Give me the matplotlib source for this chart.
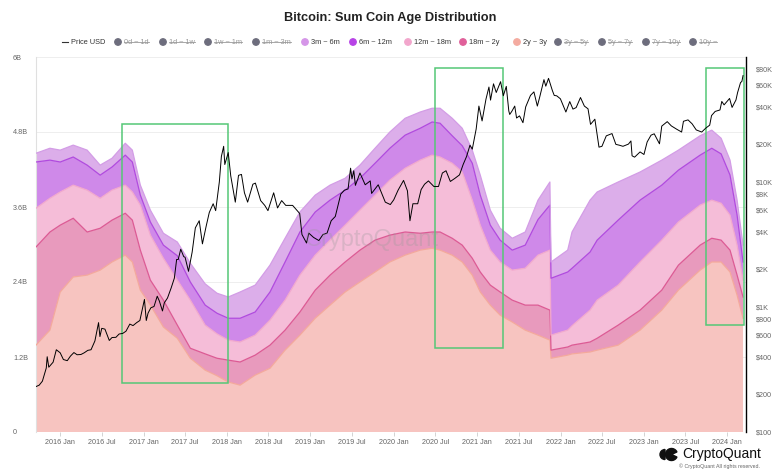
import matplotlib
matplotlib.use("Agg")
import matplotlib.pyplot as plt
import matplotlib.dates as mdates
from matplotlib.patches import Rectangle, Circle, Wedge
from matplotlib.lines import Line2D
import numpy as np
import pandas as pd

plt.rcParams["font.family"] = ["Liberation Sans", "DejaVu Sans"]

# stacked area edges (billions), from the bottom layer up
band_dates = ["2015-09-17", "2015-11-17", "2016-01-01", "2016-02-27", "2016-04-28", "2016-06-24",
              "2016-08-15", "2016-10-12", "2016-11-12", "2016-12-17", "2017-01-30", "2017-03-28",
              "2017-05-28", "2017-07-24", "2017-09-27", "2017-11-18", "2018-01-06", "2018-02-27",
              "2018-05-04", "2018-07-08", "2018-09-12", "2018-11-16", "2019-01-22", "2019-03-28",
              "2019-06-02", "2019-08-06", "2019-10-11", "2019-12-15", "2020-02-20", "2020-04-26",
              "2020-06-17", "2020-07-22", "2020-09-13", "2020-10-27", "2020-12-10", "2021-01-14",
              "2021-02-27", "2021-04-11", "2021-06-03", "2021-07-30", "2021-09-24", "2021-11-15",
              "2021-11-20", "2022-02-01", "2022-02-20", "2022-05-10", "2022-06-10", "2022-09-10",
              "2022-12-15", "2023-03-20", "2023-06-01", "2023-09-04", "2023-10-25", "2023-12-05",
              "2024-01-13", "2024-02-13", "2024-03-10"]
top_3m_6m = [4.46, 4.54, 4.51, 4.59, 4.51, 4.27, 4.38, 4.62, 4.51, 3.95, 3.55, 3.18, 3.04, 2.70,
             2.37, 2.22, 2.16, 2.24, 2.35, 2.67, 3.10, 3.52, 3.79, 3.95, 4.06, 4.27, 4.54, 4.80,
             5.02, 5.12, 5.18, 5.18, 5.02, 4.86, 4.51, 4.11, 3.55, 3.26, 3.10, 3.20, 3.71, 4.00,
             2.72, 2.91, 3.20, 3.71, 3.84, 4.00, 4.16, 4.35, 4.51, 4.74, 4.83, 4.70, 4.35, 3.71, 2.99]
top_6m_12m = [4.32, 4.35, 4.32, 4.40, 4.27, 4.11, 4.24, 4.43, 4.32, 3.79, 3.36, 2.99, 2.82, 2.40,
              2.03, 1.90, 1.82, 1.82, 1.92, 2.24, 2.72, 3.20, 3.52, 3.71, 3.87, 4.06, 4.30, 4.54,
              4.75, 4.86, 4.96, 4.94, 4.74, 4.58, 4.30, 3.79, 3.31, 3.07, 2.91, 2.99, 3.40, 3.63,
              2.46, 2.56, 2.62, 2.88, 3.07, 3.39, 3.71, 3.95, 4.19, 4.43, 4.54, 4.45, 4.11, 3.47, 2.72]
top_12m_18m = [3.58, 3.74, 3.84, 3.95, 3.87, 3.74, 3.87, 3.95, 3.84, 3.63, 3.15, 2.78, 2.43, 2.11,
               1.71, 1.57, 1.47, 1.44, 1.55, 1.79, 2.11, 2.51, 2.83, 3.07, 3.31, 3.55, 3.79, 4.03,
               4.22, 4.35, 4.43, 4.40, 4.30, 4.16, 3.71, 3.31, 2.91, 2.72, 2.59, 2.62, 2.83, 2.91,
               1.55, 1.63, 1.70, 1.95, 2.11, 2.35, 2.72, 3.07, 3.36, 3.63, 3.71, 3.66, 3.47, 2.99, 2.43]
top_18m_2y = [2.96, 3.20, 3.31, 3.42, 3.20, 3.26, 3.39, 3.50, 3.39, 2.91, 2.43, 2.11, 1.71, 1.34,
              1.25, 1.18, 1.15, 1.12, 1.23, 1.39, 1.63, 1.92, 2.27, 2.51, 2.72, 2.91, 3.07, 3.15,
              3.20, 3.18, 3.20, 3.20, 3.10, 2.99, 2.78, 2.56, 2.35, 2.24, 2.11, 2.03, 2.03, 1.95,
              1.31, 1.36, 1.39, 1.44, 1.50, 1.71, 1.95, 2.27, 2.67, 2.99, 3.10, 3.07, 2.91, 2.51, 2.16]
top_2y_3y = [1.39, 1.63, 2.24, 2.48, 2.51, 2.59, 2.72, 2.83, 2.72, 2.27, 2.03, 1.68, 1.50, 1.18,
             0.99, 0.90, 0.80, 0.75, 0.91, 1.02, 1.31, 1.55, 1.82, 2.03, 2.24, 2.40, 2.56, 2.72,
             2.83, 2.91, 2.94, 2.91, 2.83, 2.72, 2.51, 2.24, 2.03, 1.87, 1.76, 1.63, 1.55, 1.47,
             1.18, 1.23, 1.25, 1.28, 1.31, 1.39, 1.63, 1.95, 2.27, 2.59, 2.72, 2.72, 2.56, 2.19, 1.82]

# BTC price (USD)
price_dates = ["2015-09-15", "2015-10-01", "2015-10-15", "2015-11-01", "2015-11-05", "2015-11-12",
               "2015-12-01", "2015-12-15", "2016-01-01", "2016-01-15", "2016-02-01", "2016-02-15",
               "2016-03-01", "2016-03-15", "2016-04-01", "2016-04-15", "2016-05-01", "2016-05-15",
               "2016-06-01", "2016-06-17", "2016-06-23", "2016-07-01", "2016-07-15", "2016-08-03",
               "2016-08-15", "2016-09-01", "2016-09-15", "2016-10-01", "2016-10-15", "2016-11-01",
               "2016-11-15", "2016-12-01", "2016-12-15", "2017-01-04", "2017-01-12", "2017-01-20",
               "2017-02-01", "2017-02-15", "2017-03-01", "2017-03-10", "2017-03-24", "2017-04-01",
               "2017-04-15", "2017-05-01", "2017-05-15", "2017-05-25", "2017-06-01", "2017-06-12",
               "2017-06-25", "2017-07-01", "2017-07-16", "2017-08-01", "2017-08-15", "2017-09-01",
               "2017-09-15", "2017-10-01", "2017-10-15", "2017-11-01", "2017-11-12", "2017-11-28",
               "2017-12-07", "2017-12-17", "2017-12-22", "2018-01-06", "2018-01-17", "2018-02-06",
               "2018-02-20", "2018-03-05", "2018-03-18", "2018-04-01", "2018-04-24", "2018-05-05",
               "2018-05-28", "2018-06-15", "2018-06-29", "2018-07-24", "2018-08-10", "2018-08-28",
               "2018-09-15", "2018-10-15", "2018-11-15", "2018-11-25", "2018-12-15", "2018-12-25",
               "2019-01-15", "2019-02-07", "2019-02-25", "2019-03-15", "2019-04-02", "2019-04-20",
               "2019-05-14", "2019-05-30", "2019-06-15", "2019-06-26", "2019-07-02", "2019-07-10",
               "2019-07-17", "2019-08-06", "2019-08-29", "2019-09-20", "2019-09-26", "2019-10-25",
               "2019-11-25", "2019-12-17", "2020-01-01", "2020-01-20", "2020-02-13", "2020-03-01",
               "2020-03-12", "2020-03-25", "2020-04-15", "2020-04-30", "2020-05-15", "2020-06-01",
               "2020-06-25", "2020-07-15", "2020-08-01", "2020-08-17", "2020-09-05", "2020-09-25",
               "2020-10-15", "2020-10-31", "2020-11-15", "2020-11-30", "2020-12-10", "2020-12-27",
               "2021-01-08", "2021-01-22", "2021-02-08", "2021-02-21", "2021-02-28", "2021-03-13",
               "2021-03-25", "2021-04-13", "2021-04-25", "2021-05-08", "2021-05-19", "2021-05-23",
               "2021-06-01", "2021-06-14", "2021-06-22", "2021-07-05", "2021-07-20", "2021-08-01",
               "2021-08-22", "2021-09-06", "2021-09-21", "2021-10-01", "2021-10-20", "2021-10-28",
               "2021-11-09", "2021-11-26", "2021-12-04", "2021-12-15", "2021-12-31", "2022-01-10",
               "2022-01-24", "2022-02-10", "2022-02-24", "2022-03-10", "2022-03-29", "2022-04-15",
               "2022-05-01", "2022-05-12", "2022-05-31", "2022-06-18", "2022-07-01", "2022-07-20",
               "2022-08-14", "2022-08-31", "2022-09-15", "2022-10-01", "2022-10-25", "2022-11-05",
               "2022-11-10", "2022-11-21", "2022-12-15", "2023-01-01", "2023-01-15", "2023-02-01",
               "2023-02-15", "2023-03-10", "2023-03-20", "2023-04-13", "2023-05-01", "2023-05-25",
               "2023-06-15", "2023-06-23", "2023-07-13", "2023-07-31", "2023-08-18", "2023-09-11",
               "2023-09-29", "2023-10-16", "2023-10-24", "2023-11-09", "2023-11-30", "2023-12-08",
               "2023-12-18", "2024-01-11", "2024-01-22", "2024-02-08", "2024-02-15", "2024-02-28",
               "2024-03-05", "2024-03-10"]
price_usd = [230, 237, 255, 325, 400, 330, 362, 455, 430, 380, 372, 405, 432, 415, 417, 430, 450, 455,
             535, 750, 580, 675, 665, 540, 570, 572, 608, 615, 640, 730, 710, 750, 780, 1150, 780, 895,
             985, 1010, 1220, 1120, 930, 1080, 1180, 1420, 1700, 2400, 2400, 2900, 2530, 2500, 1930,
             2750, 4300, 4900, 3200, 4400, 5700, 6700, 5900, 10000, 16000, 19300, 13800, 17200, 11200,
             6900, 11300, 11500, 8200, 6900, 9600, 9800, 7100, 6500, 5900, 8200, 6200, 7100, 6500, 6500,
             5600, 3800, 3250, 3900, 3600, 3400, 3800, 3900, 4900, 5300, 8000, 8600, 8800, 12900, 10600,
             12300, 9400, 11800, 9500, 10200, 8100, 9500, 6900, 6600, 7200, 8600, 10300, 8500, 4900,
             6700, 6700, 8700, 9600, 10200, 9200, 9200, 11800, 12300, 10100, 10700, 11400, 13800, 16000,
             19700, 18300, 26500, 40500, 30800, 46000, 57500, 45200, 61000, 52000, 63500, 49000, 58200,
             37000, 34700, 36700, 40500, 32500, 33800, 29800, 39900, 49300, 52600, 40500, 47500, 65900,
             58400, 67500, 53800, 49300, 48900, 46300, 41800, 36300, 44000, 38300, 39400, 47400, 40500,
             38500, 28900, 31800, 19000, 19300, 23400, 24400, 20000, 19700, 19300, 20100, 21300, 16200,
             15800, 17400, 16600, 20900, 23700, 24300, 20200, 28000, 30400, 28100, 26400, 25100, 30600,
             31400, 29200, 26100, 25100, 27000, 28500, 34000, 36700, 37700, 44100, 41400, 46600, 39500,
             45300, 51800, 62400, 63800, 71000]

series_names = ["2y ~ 3y", "18m ~ 2y", "12m ~ 18m", "6m ~ 12m", "3m ~ 6m"]
fill_colors = ["#f7c4c0", "#e89abd", "#f5bdd8", "#cf89e9", "#dcaeea"]
edge_colors = ["#f4a99c", "#dc5a94", "#f2a9cd", "#b04ade", "#d39de6"]

legend_names = ["0d ~ 1d", "1d ~ 1w", "1w ~ 1m", "1m ~ 3m", "3m ~ 6m", "6m ~ 12m", "12m ~ 18m",
                "18m ~ 2y", "2y ~ 3y", "3y ~ 5y", "5y ~ 7y", "7y ~ 10y", "10y ~"]
legend_colors = [None, None, None, None, "#d596e8", "#b743e6", "#f2a6cc", "#e0609a", "#f4aba0",
                 None, None, None, None]
legend_x = [118, 163, 208, 256, 305, 353, 408, 463, 517, 558, 602, 646, 693]

# green highlight boxes (start, end, low B, high B)
boxes = [("2016-09-28", "2018-01-05", 0.78, 4.93),
         ("2020-06-30", "2021-04-24", 1.34, 5.82),
         ("2023-09-29", "2024-03-14", 1.71, 5.82)]

W, H = 780, 470
fx = lambda px: px / W
fy = lambda py: 1 - py / H

dates = pd.to_datetime(band_dates)
edges = np.array([top_2y_3y, top_18m_2y, top_12m_18m, top_6m_12m, top_3m_6m])
layers = np.diff(np.vstack([np.zeros(len(dates)), edges]), axis=0)

fig = plt.figure(figsize=(7.8, 4.7), dpi=100)
ax = fig.add_axes([fx(36), fy(432), fx(746) - fx(36), fy(57) - fy(432)])

ax.stackplot(dates, layers, colors=fill_colors, linewidth=0, zorder=2)
for e, c in zip(edges, edge_colors):
    ax.plot(dates, e, color=c, lw=0.9, zorder=3)

for start, end, lo, hi in boxes:
    x0 = mdates.date2num(pd.Timestamp(start))
    x1 = mdates.date2num(pd.Timestamp(end))
    ax.add_patch(Rectangle((x0, lo), x1 - x0, hi - lo, fill=False, edgecolor="#55c776",
                           lw=1.1, zorder=6))

ax.set_ylim(0, 6)
ax.set_xlim(pd.Timestamp("2015-09-17"), pd.Timestamp("2024-03-23"))
ax.set_yticks([0, 1.2, 2.4, 3.6, 4.8, 6])
ax.set_yticklabels(["0", "1.2B", "2.4B", "3.6B", "4.8B", "6B"])
ax.grid(axis="y", color="#eeeeee", lw=0.7, zorder=0)
ax.set_axisbelow(True)

xt = [pd.Timestamp(f"{y}-{m:02d}-01") for y in range(2016, 2025) for m in (1, 7)][:-1]
ax.set_xticks(xt)
ax.set_xticklabels([f"{t.year} {'Jan' if t.month == 1 else 'Jul'}" for t in xt])
ax.tick_params(axis="x", labelsize=5.2, colors="#cccccc", labelcolor="#666666", length=3,
               width=0.6, pad=2)
ax.tick_params(axis="y", labelsize=5.2, labelcolor="#666666", length=0, pad=16.5)
for lab in ax.get_yticklabels():
    lab.set_horizontalalignment("left")
for s in ["top", "right", "bottom"]:
    ax.spines[s].set_visible(False)
ax.spines["left"].set_color("#e0e0e0")

ax2 = ax.twinx()
ax2.plot(pd.to_datetime(price_dates), price_usd, color="black", lw=0.7, zorder=5)
ax2.set_yscale("log")
ax2.set_ylim(100, 100000)
pt = [100, 200, 400, 600, 800, 1000, 2000, 4000, 6000, 8000, 10000, 20000, 40000, 60000, 80000]
ax2.set_yticks(pt)
ax2.set_yticklabels([f"${v // 1000}K" if v >= 1000 else f"${v}" for v in pt])
ax2.yaxis.set_minor_locator(matplotlib.ticker.NullLocator())
ax2.tick_params(axis="y", labelsize=5.2, labelcolor="#666666", length=0, pad=7)
for s in ["top", "left", "bottom"]:
    ax2.spines[s].set_visible(False)
ax2.spines["right"].set_color("black")
ax2.spines["right"].set_linewidth(1.0)

# watermark
fig.text(fx(372), fy(240), "CryptoQuant", fontsize=17, color="#9a9a9a", alpha=0.3,
         ha="center", va="center")

fig.text(0.5, fy(18), "Bitcoin: Sum Coin Age Distribution", fontsize=9.2, fontweight="bold",
         ha="center", va="center", color="#222222")

# legend
ly = fy(42)
fig.add_artist(Line2D([fx(62), fx(68)], [ly, ly], color="#333333", lw=0.8))
fig.text(fx(71), ly, "Price USD", fontsize=5.3, color="#333333", va="center")
renderer = fig.canvas.get_renderer()
for name, col, px in zip(legend_names, legend_colors, legend_x):
    dot = col if col else "#6d6d7d"
    fig.add_artist(Circle((px, H - 42), 3.2, color=dot, transform=None))
    t = fig.text(fx(px + 6), ly, name, fontsize=5.3, va="center",
                 color="#333333" if col else "#999999")
    if col is None:
        bb = t.get_window_extent(renderer)
        fig.add_artist(Line2D([bb.x0 / W, bb.x1 / W], [ly, ly], color="#999999", lw=0.6))

# logo
lax = fig.add_axes([fx(658), fy(462), fx(679) - fx(658), fy(447) - fy(462)])
lax.set_xlim(0, 21)
lax.set_ylim(0, 15)
lax.set_aspect("equal")
lax.axis("off")
lax.add_patch(Wedge((7, 7.5), 5, 90, 270, color="#111111"))
lax.add_patch(Wedge((13.5, 7.5), 6, 25, 335, color="#111111"))
fig.text(fx(682), fy(454), "CryptoQuant", fontsize=10, color="#111111", va="center")
fig.text(fx(760), fy(466), "\u00a9 CryptoQuant All rights reserved.", fontsize=3.8,
         color="#666666", ha="right", va="center")

fig.savefig("out.png", dpi=100)
